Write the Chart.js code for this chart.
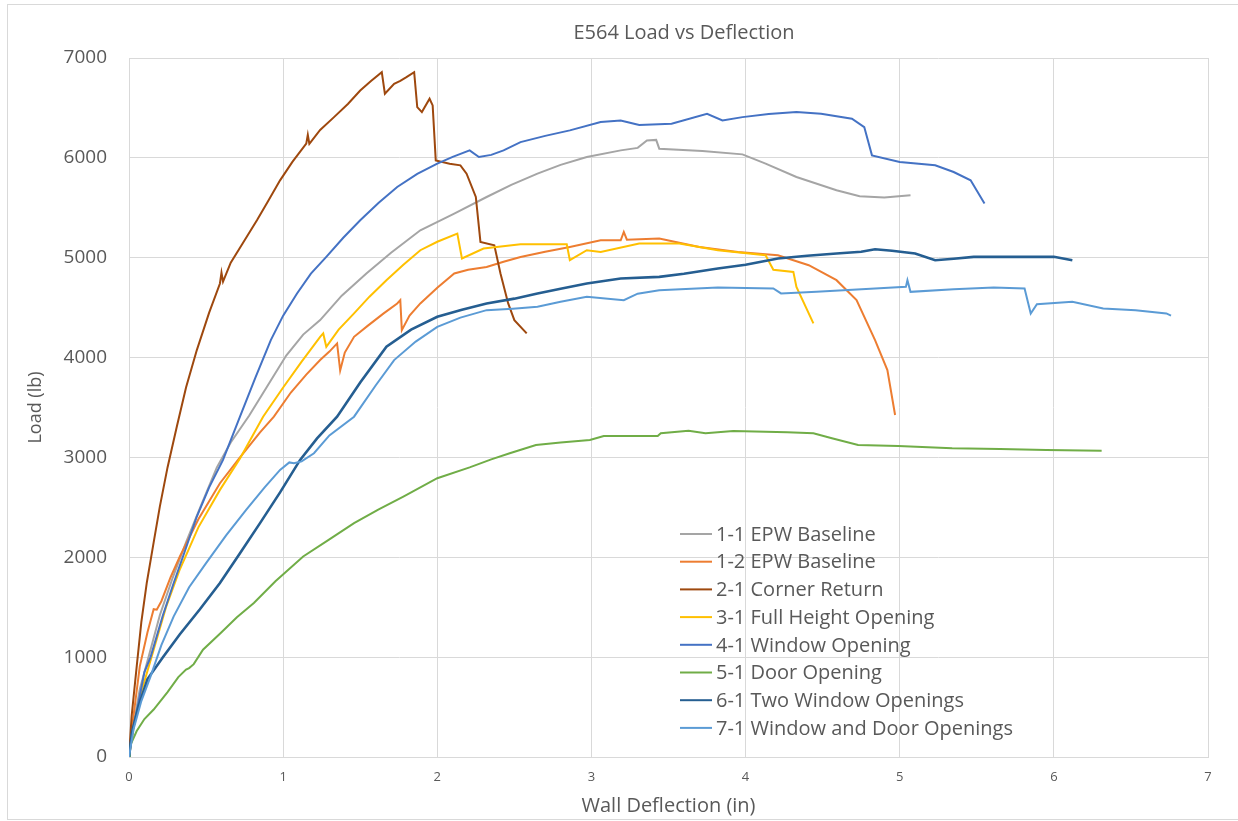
<!DOCTYPE html>
<html>
<head>
<meta charset="utf-8">
<script src="https://cdn.jsdelivr.net/npm/chart.js@4.4.1/dist/chart.umd.min.js"></script>
<style>
  html, body { margin: 0; padding: 0; background: #fff; }
  #wrap { position: relative; width: 1238px; height: 821px; overflow: hidden; }
  #frame { position: absolute; left: 7px; top: 4px; width: 1240px; height: 816px; border: 1px solid #d9d9d9; border-right: none; box-sizing: border-box; pointer-events: none; }
  canvas { display: block; }
</style>
</head>
<body>
<div id="wrap">
  <canvas id="chart" width="1238" height="821"></canvas>
  <div id="frame"></div>
</div>
<script>
// series names, in legend order
const seriesNames = [
  '1-1 EPW Baseline',
  '1-2 EPW Baseline',
  '2-1 Corner Return',
  '3-1 Full Height Opening',
  '4-1 Window Opening',
  '5-1 Door Opening',
  '6-1 Two Window Openings',
  '7-1 Window and Door Openings'
];

// [deflection (in), load (lb)]
const epwBaseline11 = [
  [0, 0], [0.03, 330], [0.07, 680], [0.13, 1020], [0.20, 1420], [0.28, 1780], [0.37, 2150],
  [0.47, 2530], [0.57, 2900], [0.66, 3150], [0.78, 3420], [0.90, 3720], [1.02, 4020],
  [1.13, 4230], [1.24, 4375], [1.38, 4620], [1.54, 4842], [1.70, 5050], [1.89, 5275],
  [2.11, 5442], [2.32, 5608], [2.48, 5730], [2.65, 5842], [2.80, 5930], [2.97, 6008],
  [3.19, 6075], [3.30, 6100], [3.36, 6175], [3.42, 6180], [3.44, 6092], [3.72, 6068],
  [3.98, 6035], [4.13, 5942], [4.33, 5808], [4.59, 5675], [4.74, 5615], [4.90, 5602], [5.07, 5625]
];

const epwBaseline12 = [
  [0, 0], [0.02, 300], [0.07, 908], [0.12, 1250], [0.16, 1480], [0.18, 1475], [0.21, 1560],
  [0.27, 1800], [0.33, 2008], [0.45, 2380], [0.59, 2742], [0.72, 3000], [0.85, 3250],
  [0.94, 3408], [1.05, 3650], [1.15, 3830], [1.24, 3975], [1.30, 4060], [1.35, 4142],
  [1.37, 3870], [1.40, 4050], [1.46, 4208], [1.55, 4320], [1.65, 4440], [1.74, 4542],
  [1.76, 4575], [1.77, 4275], [1.82, 4420], [1.89, 4542], [2.00, 4700], [2.11, 4842],
  [2.20, 4880], [2.32, 4908], [2.43, 4960], [2.54, 5008], [2.70, 5060], [2.86, 5108],
  [3.06, 5175], [3.19, 5175], [3.21, 5258], [3.23, 5180], [3.44, 5192], [3.70, 5108],
  [3.95, 5058], [4.21, 5025], [4.41, 4925], [4.59, 4775], [4.72, 4575], [4.84, 4175],
  [4.92, 3875], [4.97, 3425]
];

const cornerReturn = [
  [0, 0], [0.017, 408], [0.05, 908], [0.08, 1350], [0.115, 1742], [0.16, 2150], [0.20, 2508],
  [0.25, 2900], [0.31, 3308], [0.37, 3700], [0.44, 4075], [0.52, 4450], [0.59, 4742],
  [0.60, 4850], [0.61, 4760], [0.66, 4950], [0.74, 5150], [0.83, 5375], [0.90, 5560],
  [0.98, 5775], [1.06, 5960], [1.15, 6142], [1.16, 6230], [1.17, 6140], [1.24, 6280],
  [1.33, 6408], [1.42, 6540], [1.50, 6675], [1.57, 6770], [1.64, 6858], [1.66, 6642],
  [1.72, 6742], [1.76, 6770], [1.80, 6808], [1.85, 6858], [1.87, 6508], [1.90, 6458],
  [1.95, 6592], [1.97, 6525], [1.99, 5975], [2.08, 5942], [2.15, 5925], [2.19, 5842],
  [2.25, 5608], [2.28, 5158], [2.37, 5125], [2.41, 4842], [2.46, 4542], [2.50, 4375], [2.58, 4242]
];

const fullHeightOpening = [
  [0, 0], [0.03, 300], [0.08, 650], [0.16, 1075], [0.24, 1500], [0.33, 1880], [0.45, 2300],
  [0.59, 2675], [0.72, 2990], [0.87, 3408], [1.00, 3700], [1.12, 3960], [1.24, 4208],
  [1.26, 4242], [1.28, 4108], [1.36, 4280], [1.46, 4442], [1.56, 4610], [1.67, 4775],
  [1.78, 4930], [1.89, 5075], [2.00, 5160], [2.13, 5242], [2.16, 4992], [2.30, 5092],
  [2.54, 5135], [2.84, 5135], [2.86, 4975], [2.97, 5075], [3.06, 5058], [3.31, 5142],
  [3.57, 5142], [3.82, 5075], [4.13, 5025], [4.18, 4880], [4.31, 4858], [4.33, 4708], [4.44, 4342]
];

const windowOpening = [
  [0, 0], [0.02, 250], [0.05, 450], [0.10, 850], [0.14, 1000], [0.22, 1420], [0.29, 1742],
  [0.36, 2050], [0.44, 2408], [0.52, 2700], [0.61, 2975], [0.72, 3408], [0.82, 3800],
  [0.92, 4175], [1.00, 4420], [1.09, 4642], [1.18, 4840], [1.28, 5008], [1.39, 5200],
  [1.50, 5375], [1.62, 5550], [1.74, 5708], [1.87, 5840], [2.00, 5942], [2.10, 6010],
  [2.21, 6075], [2.27, 6008], [2.35, 6030], [2.43, 6075], [2.54, 6158], [2.70, 6220],
  [2.86, 6275], [3.06, 6358], [3.19, 6375], [3.31, 6330], [3.52, 6342], [3.75, 6442],
  [3.85, 6375], [3.98, 6408], [4.15, 6440], [4.33, 6458], [4.49, 6442], [4.69, 6392],
  [4.77, 6308], [4.82, 6025], [5.00, 5958], [5.23, 5925], [5.35, 5858], [5.46, 5775], [5.55, 5542]
];

const doorOpening = [
  [0, 0], [0.006, 108], [0.05, 260], [0.10, 380], [0.16, 475], [0.25, 650], [0.32, 800],
  [0.37, 875], [0.39, 890], [0.42, 930], [0.48, 1075], [0.60, 1250], [0.70, 1400],
  [0.81, 1542], [0.95, 1760], [1.13, 2008], [1.30, 2180], [1.46, 2342], [1.62, 2480],
  [1.78, 2608], [2.00, 2792], [2.21, 2900], [2.35, 2980], [2.47, 3042], [2.64, 3125],
  [2.80, 3150], [2.99, 3175], [3.08, 3215], [3.43, 3215], [3.45, 3242], [3.63, 3268],
  [3.74, 3242], [3.92, 3265], [4.27, 3253], [4.44, 3242], [4.56, 3192], [4.73, 3125],
  [4.99, 3115], [5.34, 3092], [5.65, 3085], [5.95, 3075], [6.31, 3068]
];

const twoWindowOpenings = [
  [0, 0], [0.02, 250], [0.06, 500], [0.12, 780], [0.22, 1000], [0.33, 1230], [0.46, 1480],
  [0.59, 1742], [0.72, 2040], [0.85, 2342], [0.98, 2650], [1.11, 2975], [1.22, 3190],
  [1.35, 3408], [1.50, 3750], [1.67, 4108], [1.83, 4280], [2.00, 4408], [2.16, 4480],
  [2.32, 4542], [2.50, 4590], [2.65, 4642], [2.80, 4690], [2.97, 4742], [3.19, 4792],
  [3.44, 4808], [3.60, 4840], [3.82, 4892], [4.00, 4930], [4.21, 4992], [4.40, 5020],
  [4.59, 5042], [4.75, 5060], [4.84, 5085], [4.95, 5070], [5.10, 5042], [5.23, 4975],
  [5.35, 4990], [5.48, 5008], [5.86, 5008], [6.00, 5010], [6.12, 4975]
];

const windowAndDoorOpenings = [
  [0, 0], [0.03, 280], [0.08, 560], [0.14, 808], [0.21, 1120], [0.29, 1408], [0.39, 1700],
  [0.50, 1942], [0.63, 2220], [0.76, 2475], [0.88, 2700], [0.98, 2875], [1.04, 2950],
  [1.07, 2942], [1.12, 2960], [1.20, 3042], [1.30, 3220], [1.46, 3408], [1.60, 3720],
  [1.72, 3975], [1.86, 4160], [2.00, 4308], [2.15, 4400], [2.32, 4475], [2.49, 4490],
  [2.65, 4508], [2.80, 4560], [2.97, 4608], [3.21, 4575], [3.30, 4640], [3.44, 4675],
  [3.82, 4702], [4.18, 4692], [4.23, 4642], [4.46, 4658], [4.84, 4692], [5.04, 4708],
  [5.05, 4775], [5.07, 4658], [5.35, 4683], [5.61, 4702], [5.81, 4692], [5.85, 4442],
  [5.89, 4535], [6.12, 4558], [6.32, 4492], [6.53, 4475], [6.73, 4442], [6.76, 4420]
];

const xTicks = [0, 1, 2, 3, 4, 5, 6, 7];
const yTicks = [0, 1000, 2000, 3000, 4000, 5000, 6000, 7000];
const chartTitle = 'E564 Load vs Deflection';

const allSeries = [
  epwBaseline11, epwBaseline12, cornerReturn, fullHeightOpening,
  windowOpening, doorOpening, twoWindowOpenings, windowAndDoorOpenings
];
const colors = ['#A5A5A5', '#ED7D31', '#9E480E', '#FFC000', '#4472C4', '#70AD47', '#255E91', '#5B9BD5'];
const widths = [2, 2, 2, 2, 2, 2, 2.6, 2];

const FONT = '"Open Sans", "Liberation Sans", sans-serif';
const TEXT = '#595959';
const GRID = '#d9d9d9';

// title is centred a little right of the plot centre, as in the picture
const titlePlugin = {
  id: 'titlePlugin',
  afterDraw(chart) {
    const { ctx, chartArea } = chart;
    ctx.save();
    ctx.font = '20px ' + FONT;
    ctx.fillStyle = TEXT;
    ctx.textAlign = 'center';
    ctx.textBaseline = 'middle';
    ctx.fillText(chartTitle, chartArea.left + 555, 33);
    ctx.restore();
  }
};

// legend sits inside the plot, lower middle, like the Excel one
const insideLegend = {
  id: 'insideLegend',
  afterDraw(chart) {
    const { ctx, chartArea } = chart;
    const left = chartArea.left + 551;
    const top = chartArea.top + 476;
    const step = 27.7;
    ctx.save();
    ctx.font = '20px ' + FONT;
    ctx.textBaseline = 'middle';
    ctx.fillStyle = TEXT;
    chart.data.datasets.forEach((ds, i) => {
      const y = top + i * step;
      ctx.strokeStyle = ds.borderColor;
      ctx.lineWidth = 2;
      ctx.beginPath();
      ctx.moveTo(left, y);
      ctx.lineTo(left + 32, y);
      ctx.stroke();
      ctx.fillText(ds.label, left + 36, y + 1);
    });
    ctx.restore();
  }
};

const datasets = allSeries.map((pts, i) => ({
  label: seriesNames[i],
  data: pts.map(p => ({ x: p[0], y: p[1] })),
  borderColor: colors[i],
  backgroundColor: colors[i],
  borderWidth: widths[i],
  pointRadius: 0,
  tension: 0,
  fill: false,
  order: allSeries.length - i
}));

new Chart(document.getElementById('chart'), {
  type: 'line',
  data: { datasets },
  options: {
    responsive: false,
    animation: false,
    layout: { padding: { left: 0, right: 30, top: 58, bottom: 0 } },
    plugins: {
      legend: { display: false },
      tooltip: { enabled: false },
      title: { display: false }
    },
    scales: {
      x: {
        type: 'linear',
        min: 0,
        max: 7,
        afterBuildTicks: s => { s.ticks = xTicks.map(v => ({ value: v })); },
        afterFit: s => { s.height = 64; },
        grid: { color: GRID, drawTicks: false },
        border: { color: GRID },
        ticks: { color: TEXT, font: { family: FONT, size: 13 }, padding: 12 },
        title: {
          display: true,
          text: 'Wall Deflection (in)',
          color: TEXT,
          font: { family: FONT, size: 20 },
          padding: { top: 0, bottom: 3 }
        }
      },
      y: {
        min: 0,
        max: 7000,
        afterBuildTicks: s => { s.ticks = yTicks.map(v => ({ value: v })); },
        afterFit: s => { s.width = 129; },
        grid: { color: GRID, drawTicks: false },
        border: { color: GRID },
        ticks: {
          color: TEXT,
          font: { family: FONT, size: 19 },
          padding: 22,
          callback: v => String(v)
        },
        title: {
          display: true,
          text: 'Load (lb)',
          color: TEXT,
          font: { family: FONT, size: 18 },
          padding: { top: 25, bottom: 0 }
        }
      }
    }
  },
  plugins: [titlePlugin, insideLegend]
});
</script>
</body>
</html>
